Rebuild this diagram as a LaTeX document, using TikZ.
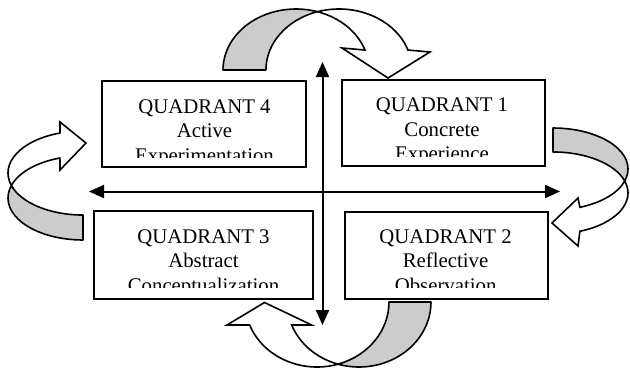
\documentclass[tikz,border=0pt]{standalone}
\usepackage{fontspec}
\setmainfont{Liberation Serif}
\usetikzlibrary{arrows.meta}
\tikzset{
  quadbox/.style={draw, line width=2pt, rectangle, inner sep=0pt, fill=white},
  linetext/.style={anchor=base, inner sep=0pt, font=\fontsize{20.8}{24.5}\selectfont},
  ribbonback/.style={draw, fill=black!20, line width=1.6pt, line join=round},
  ribbonfront/.style={draw, fill=white, line width=1.6pt, line join=miter},
  axisline/.style={line width=2pt, {Triangle[length=15pt,width=13pt]}-{Triangle[length=15pt,width=13pt]}},
}
\begin{document}
\begin{tikzpicture}[x=1pt,y=-1pt]
\useasboundingbox (0,0) rectangle (630,373);

% ---- curved ribbon arrows ----
% top (grey back, white front pointing down to Quadrant 1)
\filldraw[ribbonback] (296,70) ++(180:73 and 61)
  arc[start angle=180,end angle=287.1,x radius=73,y radius=61]
  arc[start angle=252.9,end angle=180,x radius=73,y radius=61] -- cycle;
\filldraw[ribbonfront] (339,70) ++(252.9:73 and 61)
  arc[start angle=252.9,end angle=340.9,x radius=73,y radius=61]
  -- (430,52) -- (388,78) -- (342,48) -- (364.98,50.04)
  arc[start angle=340.9,end angle=287.1,x radius=73,y radius=61] -- cycle;

% right (pointing left to Quadrant 2)
\filldraw[ribbonback] (553,169) ++(270:75 and 41)
  arc[start angle=270,end angle=377,x radius=75,y radius=41]
  arc[start angle=343,end angle=270,x radius=75,y radius=41] -- cycle;
\filldraw[ribbonfront] (553,193) ++(343:75 and 41)
  arc[start angle=343,end angle=429,x radius=75,y radius=41]
  -- (578,246) -- (552,223) -- (578,198) -- (579.9,207.3)
  arc[start angle=429,end angle=377,x radius=75,y radius=41] -- cycle;

% bottom (pointing up to Quadrant 3)
\filldraw[ribbonback] (359,302) ++(0:72 and 65)
  arc[start angle=0,end angle=106.96,x radius=72,y radius=65]
  arc[start angle=73.04,end angle=0,x radius=72,y radius=65] -- cycle;
\filldraw[ribbonfront] (317,302) ++(73.04:72 and 65)
  arc[start angle=73.04,end angle=159.28,x radius=72,y radius=65]
  -- (227,325) -- (264.5,302.5) -- (311.7,325) -- (291.66,325)
  arc[start angle=159.28,end angle=106.96,x radius=72,y radius=65] -- cycle;

% left (pointing right to Quadrant 4)
\filldraw[ribbonback] (83,198) ++(90:75 and 42)
  arc[start angle=90,end angle=197.3,x radius=75,y radius=42]
  arc[start angle=162.7,end angle=90,x radius=75,y radius=42] -- cycle;
\filldraw[ribbonfront] (83,173) ++(162.7:75 and 42)
  arc[start angle=162.7,end angle=252.1,x radius=75,y radius=42]
  -- (60,122) -- (86,143) -- (60,170) -- (59.94,158.0)
  arc[start angle=252.1,end angle=197.3,x radius=75,y radius=42] -- cycle;

% ---- boxes ----
\node[quadbox, minimum width=204pt, minimum height=86pt] (q4) at (204,124) {};
\node[quadbox, minimum width=203pt, minimum height=86pt] (q1) at (443.5,123) {};
\node[quadbox, minimum width=219pt, minimum height=88pt] (q3) at (203.5,255) {};
\node[quadbox, minimum width=203pt, minimum height=87pt] (q2) at (446.5,255.5) {};

\begin{scope}
\clip (104,83) rectangle (304,157);
\node[linetext] (q4a) at (204.5,113.3) {QUADRANT 4};
\node[linetext] (q4b) at (204.5,137.8) {Active};
\node[linetext] (q4c) at (204.5,162.3) {Experimentation};
\end{scope}
\begin{scope}
\clip (344,82) rectangle (543,156);
\node[linetext] (q1a) at (442,111.7) {QUADRANT 1};
\node[linetext] (q1b) at (442,136.2) {Concrete};
\node[linetext] (q1c) at (442,160.7) {Experience};
\end{scope}
\begin{scope}
\clip (96,213) rectangle (311,287);
\node[linetext] (q3a) at (203.5,243) {QUADRANT 3};
\node[linetext] (q3b) at (203.5,267.5) {Abstract};
\node[linetext] (q3c) at (203.5,292) {Conceptualization};
\end{scope}
\begin{scope}
\clip (347,214) rectangle (546,287);
\node[linetext] (q2a) at (445.6,243) {QUADRANT 2};
\node[linetext] (q2b) at (445.6,267.5) {Reflective};
\node[linetext] (q2c) at (445.6,292) {Observation};
\end{scope}

% ---- axes ----
\coordinate (hl) at (89,191.5);
\coordinate (hr) at (560,191.5);
\coordinate (vt) at (322.5,62);
\coordinate (vb) at (322.5,325);
\draw[axisline] (hl) -- (hr);
\draw[axisline] (vt) -- (vb);
\end{tikzpicture}
\end{document}
